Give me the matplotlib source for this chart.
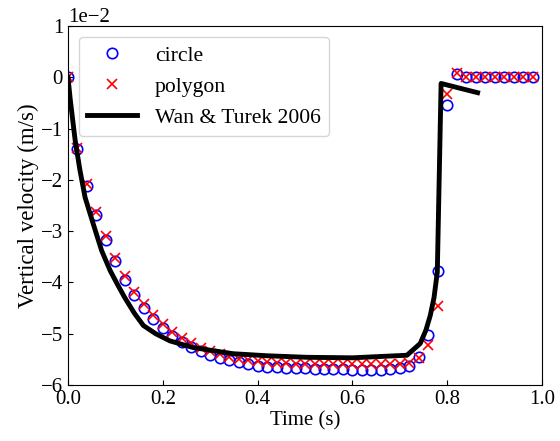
import numpy as np
import matplotlib
matplotlib.use("Agg")
import matplotlib.pyplot as plt

plt.rcParams['font.family'] = ['Liberation Serif', 'DejaVu Serif']
plt.rcParams['mathtext.fontset'] = 'stix'
plt.rcParams['xtick.direction'] = 'in'
plt.rcParams['ytick.direction'] = 'in'

# Sampled times (s)
t_sim = [0.00, 0.02, 0.04, 0.06, 0.08, 0.10, 0.12, 0.14, 0.16, 0.18,
         0.20, 0.22, 0.24, 0.26, 0.28, 0.30, 0.32, 0.34, 0.36, 0.38,
         0.40, 0.42, 0.44, 0.46, 0.48, 0.50, 0.52, 0.54, 0.56, 0.58,
         0.60, 0.62, 0.64, 0.66, 0.68, 0.70, 0.72, 0.74, 0.76, 0.78,
         0.80, 0.82, 0.84, 0.86, 0.88, 0.90, 0.92, 0.94, 0.96, 0.98]

# Vertical velocity, circular particle (x 1e-2 m/s)
v_circle = [0.00, -1.39, -2.12, -2.68, -3.17, -3.58, -3.95, -4.25, -4.50, -4.71,
            -4.89, -5.04, -5.16, -5.26, -5.34, -5.41, -5.47, -5.52, -5.56, -5.59,
            -5.62, -5.64, -5.65, -5.66, -5.67, -5.67, -5.68, -5.68, -5.69, -5.69,
            -5.70, -5.70, -5.70, -5.70, -5.69, -5.67, -5.63, -5.46, -5.02, -3.77,
            -0.54, 0.07, 0.00, 0.00, 0.00, 0.00, 0.00, 0.00, 0.00, 0.00]

# Vertical velocity, polygonal particle (x 1e-2 m/s)
v_polygon = [0.00, -1.37, -2.08, -2.63, -3.10, -3.52, -3.88, -4.18, -4.43, -4.64,
             -4.82, -4.97, -5.09, -5.19, -5.27, -5.34, -5.40, -5.45, -5.49, -5.52,
             -5.54, -5.56, -5.57, -5.58, -5.59, -5.59, -5.60, -5.60, -5.60, -5.60,
             -5.60, -5.60, -5.60, -5.60, -5.60, -5.59, -5.58, -5.48, -5.22, -4.45,
             -0.33, 0.08, 0.00, 0.00, 0.00, 0.00, 0.00, 0.00, 0.00, 0.00]

# Reference curve, Wan & Turek 2006 (x 1e-2 m/s)
t_ref = [0.0, 0.005, 0.015, 0.025, 0.036, 0.053, 0.071, 0.089, 0.105, 0.12,
         0.14, 0.159, 0.185, 0.215, 0.264, 0.348, 0.42, 0.504, 0.6, 0.715,
         0.743, 0.755, 0.764, 0.772, 0.779, 0.787, 0.864]
v_ref = [0.0, -0.45, -1.22, -1.80, -2.34, -2.85, -3.38, -3.77, -4.05, -4.30,
         -4.60, -4.84, -5.00, -5.14, -5.27, -5.39, -5.43, -5.46, -5.47, -5.42,
         -5.19, -4.93, -4.65, -4.30, -3.80, -0.12, -0.30]

scale = 1e-2

fig = plt.figure(figsize=(5.6, 4.41), dpi=100)
ax = fig.add_axes([0.1214, 0.127, 0.8466, 0.814])

ax.plot(t_sim, np.array(v_circle) * scale, 'o', mfc='none', mec='blue',
        ms=7.5, mew=1.2, label='circle')
ax.plot(t_sim, np.array(v_polygon) * scale, 'x', color='red',
        ms=7.5, mew=1.2, label='polygon')
ax.plot(t_ref, np.array(v_ref) * scale, '-', color='black', lw=3.5,
        label='Wan & Turek 2006')

ax.set_xlim(0, 1.0)
ax.set_ylim(-0.06, 0.01)
ax.ticklabel_format(axis='y', style='sci', scilimits=(0, 0))
ax.tick_params(labelsize=15)
ax.yaxis.get_offset_text().set_fontsize(15)
ax.set_xlabel('Time (s)', fontsize=15, labelpad=2)
ax.set_ylabel('Vertical velocity (m/s)', fontsize=16.5, labelpad=1)

ax.legend(loc='upper left', fontsize=15.6, handlelength=2.3)

fig.savefig('out.png', dpi=100)
